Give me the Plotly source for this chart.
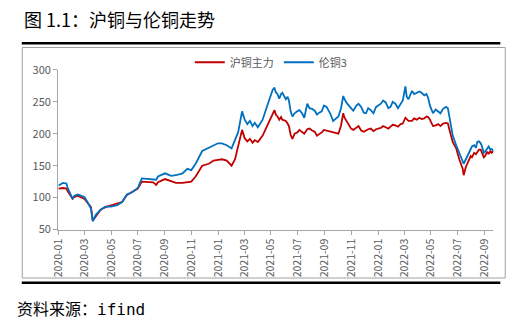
import plotly.graph_objects as go

W, H = 518, 324

# Sampled trading dates and prices for SHFE main copper and LME 3M copper
dates = [
    "2020-01-02", "2020-01-12", "2020-01-20", "2020-01-23", "2020-02-03", "2020-02-07",
    "2020-02-15", "2020-02-22", "2020-03-01", "2020-03-08", "2020-03-16", "2020-03-20",
    "2020-03-27", "2020-04-07", "2020-04-18", "2020-05-01", "2020-05-15", "2020-05-26",
    "2020-06-06", "2020-06-17", "2020-07-01", "2020-07-10", "2020-07-21", "2020-08-05",
    "2020-08-12", "2020-08-16", "2020-09-01", "2020-09-15", "2020-09-26", "2020-10-11",
    "2020-10-22", "2020-10-31", "2020-11-10", "2020-11-25", "2020-12-10", "2020-12-21",
    "2020-12-31", "2021-01-09", "2021-01-20", "2021-01-31", "2021-02-08", "2021-02-15",
    "2021-02-24", "2021-03-02", "2021-03-08", "2021-03-14", "2021-03-20", "2021-03-25",
    "2021-04-01", "2021-04-12", "2021-04-24", "2021-05-05", "2021-05-09", "2021-05-12",
    "2021-05-16", "2021-05-20", "2021-05-24", "2021-05-27", "2021-06-04", "2021-06-08",
    "2021-06-11", "2021-06-15", "2021-06-19", "2021-06-24", "2021-06-30", "2021-07-05",
    "2021-07-11", "2021-07-16", "2021-07-23", "2021-07-28", "2021-08-03", "2021-08-09",
    "2021-08-14", "2021-08-19", "2021-08-25", "2021-08-30", "2021-09-05", "2021-09-13",
    "2021-09-20", "2021-10-02", "2021-10-08", "2021-10-13", "2021-10-16", "2021-10-20",
    "2021-10-26", "2021-10-31", "2021-11-05", "2021-11-12", "2021-11-17", "2021-11-23",
    "2021-11-29", "2021-12-04", "2021-12-09", "2021-12-15", "2021-12-21", "2021-12-27",
    "2022-01-07", "2022-01-12", "2022-01-18", "2022-01-24", "2022-01-29", "2022-02-03",
    "2022-02-09", "2022-02-15", "2022-02-21", "2022-02-26", "2022-03-04", "2022-03-07",
    "2022-03-11", "2022-03-19", "2022-03-24", "2022-03-30", "2022-04-05", "2022-04-10",
    "2022-04-16", "2022-04-21", "2022-04-25", "2022-04-29", "2022-05-06", "2022-05-12",
    "2022-05-18", "2022-05-23", "2022-05-29", "2022-06-05", "2022-06-09", "2022-06-13",
    "2022-06-20", "2022-06-28", "2022-07-05", "2022-07-13", "2022-07-15", "2022-07-20",
    "2022-07-26", "2022-07-31", "2022-08-03", "2022-08-08", "2022-08-12", "2022-08-15",
    "2022-08-19", "2022-08-23", "2022-08-26", "2022-08-30", "2022-09-02", "2022-09-07",
    "2022-09-10", "2022-09-14", "2022-09-17", "2022-09-21",
]

shfe_main = [
    114, 115, 114, 110, 98, 101,
    103, 101, 98, 92, 85, 64,
    71, 81, 85, 88, 90, 93,
    104, 108, 114, 125, 125, 124,
    120, 124, 129, 125, 123, 123,
    124, 125, 133, 150, 153, 158,
    159, 160, 158, 150, 160, 182,
    206, 193, 188, 192, 186, 190,
    187, 197, 215, 230, 237, 230,
    227, 222, 226, 222, 220, 216,
    212, 198, 192, 200, 202, 206,
    202, 200, 207, 208, 205, 203,
    197, 199, 202, 206, 205, 203,
    202, 200, 213, 232, 225, 220,
    214, 208, 206, 210, 212, 205,
    203, 205, 207, 208, 204, 207,
    209, 212, 210, 208, 211, 214,
    213, 211, 215, 216, 225, 222,
    220, 220, 224, 222, 225, 223,
    224, 227, 226, 222, 212, 213,
    215, 212, 216, 217, 216, 205,
    187, 177, 160, 145, 135, 148,
    158, 165, 163, 170, 168, 172,
    175, 175, 170, 163, 165, 172,
    168, 173, 170, 173,
]

lme_3m = [
    119, 123, 122, 115, 98, 103,
    105, 103, 101, 93, 83, 63,
    73, 81, 86, 86, 88, 93,
    105, 108, 115, 130, 129, 128,
    128, 133, 138, 134, 135, 138,
    145, 143, 153, 173, 178, 182,
    185, 185, 182, 177, 190, 202,
    235, 222, 215, 220, 212, 217,
    210, 222, 247, 269, 272, 265,
    262, 255, 262, 264, 254, 258,
    252, 235, 227, 232, 235, 237,
    232, 225, 247, 240, 239, 236,
    230, 233, 235, 244, 242, 232,
    220, 227, 240, 259, 254, 249,
    244, 239, 236, 244, 247, 242,
    233, 232, 240, 237, 232, 242,
    247, 252, 249, 240, 242, 250,
    247, 240, 247, 252, 274, 258,
    254, 267, 262, 264, 266, 264,
    260, 262, 256, 244, 232, 238,
    235, 232, 239, 242, 240, 222,
    197, 182, 170, 155, 153, 160,
    168, 175, 180, 182, 178, 187,
    188, 185, 180, 170, 172, 177,
    180, 175, 176, 173,
]

series_names = ["沪铜主力", "伦铜3"]
series_colors = ["#C00000", "#0070C0"]

tick_dates = [
    "2020-01-01", "2020-03-01", "2020-05-01", "2020-07-01", "2020-09-01", "2020-11-01",
    "2021-01-01", "2021-03-01", "2021-05-01", "2021-07-01", "2021-09-01", "2021-11-01",
    "2022-01-01", "2022-03-01", "2022-05-01", "2022-07-01", "2022-09-01",
]
tick_labels = [d[:7] for d in tick_dates]
y_ticks = [50, 100, 150, 200, 250, 300]

title_text = "图 1.1：沪铜与伦铜走势"
source_text = '资料来源：<span style="font-family:DejaVu Sans Mono">ifind</span>'

FONT = "Noto Sans CJK SC"
AXIS_GREY = "#A6A6A6"


def px_x(p):
    return p / W


def px_y(p):
    return 1 - p / H


fig = go.Figure()
for name, vals, col in zip(series_names, [shfe_main, lme_3m], series_colors):
    fig.add_trace(go.Scatter(
        x=dates, y=vals, name=name, mode="lines",
        line=dict(color=col, width=1.8),
    ))

shapes = [
    # chart frame
    dict(type="rect", xref="paper", yref="paper",
         x0=px_x(13.5), x1=px_x(505), y0=px_y(283), y1=px_y(40.5),
         line=dict(color="#A0A0A0", width=1), fillcolor="rgba(0,0,0,0)", layer="below"),
    # heavy rules above and below the frame
    dict(type="line", xref="paper", yref="paper",
         x0=px_x(13), x1=px_x(500), y0=px_y(36), y1=px_y(36),
         line=dict(color="#000000", width=2.5)),
    dict(type="line", xref="paper", yref="paper",
         x0=px_x(13), x1=px_x(500), y0=px_y(288), y1=px_y(288),
         line=dict(color="#000000", width=2.5)),
]

annotations = [
    dict(text=title_text, xref="paper", yref="paper", x=px_x(13), y=px_y(10),
         xanchor="left", yanchor="middle", showarrow=False,
         font=dict(family=FONT, size=18, color="#000000")),
    dict(text=source_text, xref="paper", yref="paper", x=px_x(6), y=px_y(315),
         xanchor="left", yanchor="middle", showarrow=False,
         font=dict(family=FONT, size=16, color="#000000")),
]

fig.update_layout(
    width=W, height=H,
    margin=dict(l=0, r=0, t=0, b=0),
    paper_bgcolor="white", plot_bgcolor="white",
    font=dict(family=FONT, size=11, color="#595959"),
    shapes=shapes, annotations=annotations,
    showlegend=True,
    legend=dict(orientation="h", x=px_x(184), y=px_y(56), xanchor="left", yanchor="middle",
                font=dict(family=FONT, size=11, color="#595959"),
                bgcolor="rgba(0,0,0,0)", itemwidth=30, tracegroupgap=0),
    xaxis=dict(
        domain=[px_x(50), px_x(493)],
        range=["2020-01-01", "2022-09-21"],
        tickmode="array", tickvals=tick_dates, ticktext=tick_labels,
        tickangle=-90, ticks="outside", ticklen=4, tickcolor=AXIS_GREY,
        showline=True, linecolor=AXIS_GREY, linewidth=1,
        showgrid=False, zeroline=False,
        tickfont=dict(family=FONT, size=10.5, color="#595959"),
    ),
    yaxis=dict(
        domain=[px_y(232), px_y(64)],
        range=[50, 300],
        tickmode="array", tickvals=y_ticks,
        ticks="outside", ticklen=4, tickcolor=AXIS_GREY,
        showline=True, linecolor=AXIS_GREY, linewidth=1,
        showgrid=False, zeroline=False,
        tickfont=dict(family=FONT, size=11, color="#595959"),
    ),
)

fig.write_html("out.html")
